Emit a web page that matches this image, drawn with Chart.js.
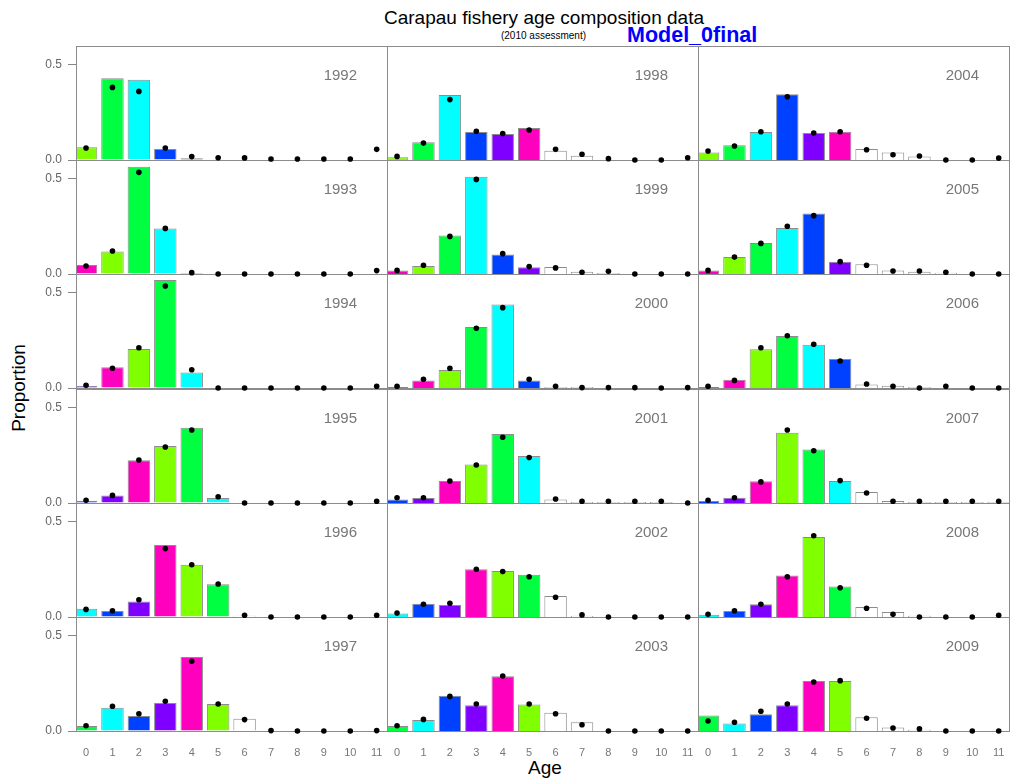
<!DOCTYPE html>
<html>
<head>
<meta charset="utf-8">
<script src="https://cdn.jsdelivr.net/npm/chart.js@4.4.1/dist/chart.umd.min.js"></script>
<style>
html,body{margin:0;padding:0;background:#fff;width:1011px;height:778px;overflow:hidden;font-family:"Liberation Sans",Arial,sans-serif;}
.abs{position:absolute;white-space:nowrap;line-height:1;}
canvas{position:absolute;}
</style>
</head>
<body>
<div class="abs" style="left:0;width:1088px;top:8px;text-align:center;font-size:19px;color:#000;">Carapau fishery age composition data</div>
<div class="abs" style="left:0;width:1087px;top:31px;text-align:center;font-size:10px;color:#000;">(2010 assessment)</div>
<div class="abs" style="left:627px;top:25px;font-size:21.5px;font-weight:bold;color:#0000ff;">Model_0final</div>
<div class="abs" style="left:18px;top:388px;font-size:19px;color:#000;transform:translate(-50%,-50%) rotate(-90deg);">Proportion</div>
<div class="abs" style="left:545px;top:767px;font-size:19px;color:#000;transform:translate(-50%,-50%);">Age</div>
<div id="panels"></div>
<script>
// ---------------- data ----------------
const years = [1992,1993,1994,1995,1996,1997,1998,1999,2000,2001,2002,2003,2004,2005,2006,2007,2008,2009];
const ages = [0,1,2,3,4,5,6,7,8,9,10,11];
const yTickValues = [0, 0.5];

// observed proportions (bars)
const obs1992 = [0.067,0.430,0.423,0.058,0.009,0.003,0,0,0,0,0,0];
const obs1993 = [0.047,0.119,0.565,0.239,0.005,0,0,0,0,0,0,0];
const obs1994 = [0.011,0.109,0.205,0.568,0.082,0,0,0,0,0,0,0];
const obs1995 = [0.012,0.039,0.225,0.300,0.396,0.026,0,0,0,0,0,0];
const obs1996 = [0.044,0.032,0.082,0.379,0.275,0.172,0.007,0,0,0,0,0];
const obs1997 = [0.026,0.123,0.079,0.147,0.389,0.142,0.065,0,0,0,0,0];
const obs1998 = [0.014,0.093,0.342,0.147,0.137,0.168,0.049,0.023,0,0,0,0];
const obs1999 = [0.018,0.042,0.202,0.512,0.102,0.035,0.037,0.012,0.005,0,0,0];
const obs2000 = [0.005,0.039,0.095,0.321,0.439,0.039,0.005,0.005,0,0,0,0];
const obs2001 = [0.019,0.026,0.116,0.202,0.363,0.247,0.018,0.005,0.005,0.005,0.005,0];
const obs2002 = [0.019,0.070,0.063,0.251,0.242,0.223,0.111,0.007,0,0,0,0];
const obs2003 = [0.026,0.058,0.186,0.135,0.288,0.140,0.096,0.046,0,0,0,0];
const obs2004 = [0.039,0.077,0.147,0.346,0.142,0.149,0.058,0.039,0.019,0,0,0];
const obs2005 = [0.019,0.089,0.163,0.242,0.318,0.065,0.051,0.019,0.012,0.007,0,0];
const obs2006 = [0.005,0.044,0.204,0.274,0.228,0.153,0.018,0.012,0.005,0,0,0];
const obs2007 = [0.011,0.028,0.114,0.370,0.281,0.116,0.058,0.011,0.005,0.005,0.005,0.005];
const obs2008 = [0.012,0.032,0.067,0.218,0.421,0.161,0.053,0.026,0.007,0,0,0];
const obs2009 = [0.082,0.040,0.088,0.135,0.263,0.263,0.072,0.019,0.007,0,0,0];

// model-predicted proportions (dots)
const exp1992 = [0.063,0.382,0.361,0.063,0.018,0.012,0.011,0.005,0.005,0.005,0.005,0.056];
const exp1993 = [0.042,0.121,0.535,0.240,0.007,0,0,0,0,0,0,0.018];
const exp1994 = [0.014,0.104,0.212,0.537,0.096,0,0,0,0,0,0,0.009];
const exp1995 = [0.014,0.040,0.226,0.295,0.384,0.033,0,0,0,0,0,0.009];
const exp1996 = [0.040,0.033,0.091,0.360,0.275,0.174,0.009,0,0,0,0,0.009];
const exp1997 = [0.028,0.130,0.091,0.156,0.367,0.142,0.060,0.002,0,0,0,0.002];
const exp1998 = [0.019,0.089,0.318,0.151,0.139,0.158,0.056,0.030,0.007,0,0,0.012];
const exp1999 = [0.019,0.046,0.198,0.498,0.107,0.039,0.032,0.009,0.014,0,0,0];
const exp2000 = [0.009,0.046,0.104,0.314,0.423,0.046,0.009,0.002,0.002,0.002,0,0.002];
const exp2001 = [0.028,0.028,0.116,0.200,0.346,0.239,0.021,0.009,0.009,0.009,0.009,0];
const exp2002 = [0.021,0.067,0.072,0.251,0.239,0.212,0.104,0.011,0,0,0,0];
const exp2003 = [0.028,0.061,0.182,0.142,0.289,0.142,0.091,0.033,0,0,0,0];
const exp2004 = [0.047,0.074,0.149,0.333,0.142,0.149,0.054,0.028,0.021,0,0,0.010];
const exp2005 = [0.019,0.089,0.161,0.251,0.307,0.065,0.046,0.016,0.016,0.009,0,0];
const exp2006 = [0.009,0.040,0.212,0.275,0.230,0.142,0.021,0.009,0,0.009,0,0];
const exp2007 = [0.014,0.028,0.111,0.384,0.275,0.118,0.053,0.009,0.009,0.009,0.009,0.009];
const exp2008 = [0.014,0.033,0.067,0.212,0.428,0.154,0.046,0.014,0,0,0,0.009];
const exp2009 = [0.053,0.046,0.104,0.142,0.258,0.265,0.067,0.016,0.011,0,0,0];

const observed = [obs1992,obs1993,obs1994,obs1995,obs1996,obs1997,obs1998,obs1999,obs2000,
                  obs2001,obs2002,obs2003,obs2004,obs2005,obs2006,obs2007,obs2008,obs2009];
const expected = [exp1992,exp1993,exp1994,exp1995,exp1996,exp1997,exp1998,exp1999,exp2000,
                  exp2001,exp2002,exp2003,exp2004,exp2005,exp2006,exp2007,exp2008,exp2009];

// ---------------- styles ----------------
const cohortColors = ['#80ff00','#00ff40','#00ffff','#0040ff','#8000ff','#ff00bf'];
const plusGroupColor = '#ffffff';
const firstPlusAge = 6;
function barColor(year, age){
  if (age >= firstPlusAge) return plusGroupColor;
  const cohort = year - age;
  return cohortColors[(((1992 - cohort) % 6) + 6) % 6];
}

Chart.defaults.font.family = '"Liberation Sans", Arial, sans-serif';

const colLefts = [76, 387, 698];
const colW = 311;
const rowTops = [46, 160, 274, 389, 503, 617];
const rowH = 114;
const P = 5, Y_AXIS_W = 60, X_AXIS_H = 40;

const framePlugin = {
  id: 'frame',
  afterDatasetDraw(chart, args){
    if (args.meta.type !== 'bar') return;
    const a = chart.chartArea, ctx = chart.ctx;
    ctx.save();
    ctx.strokeStyle = '#8c8c8c';
    ctx.lineWidth = 1;
    ctx.strokeRect(a.left + 0.5, a.top + 0.5, a.right - a.left, a.bottom - a.top);
    ctx.restore();
  }
};

const holder = document.getElementById('panels');
years.forEach((year, i) => {
  const col = Math.floor(i / 6), row = i % 6;
  const isLeft = col === 0, isBottom = row === 5;
  const cv = document.createElement('canvas');
  const w = colW + P + (isLeft ? Y_AXIS_W : P);
  const h = rowH + P + (isBottom ? X_AXIS_H : P);
  cv.width = w; cv.height = h;
  cv.style.width = w + 'px'; cv.style.height = h + 'px';
  cv.style.left = (colLefts[col] - (isLeft ? Y_AXIS_W : P)) + 'px';
  cv.style.top = (rowTops[row] - P) + 'px';
  cv.style.zIndex = String(10 - row);
  holder.appendChild(cv);

  const lab = document.createElement('div');
  lab.className = 'abs';
  lab.textContent = String(year);
  lab.style.cssText += `left:${colLefts[col]}px;width:${colW-30}px;top:${rowTops[row]+21}px;text-align:right;font-size:15px;color:#777;z-index:20;`;
  document.body.appendChild(lab);

  const obs = observed[i], ex = expected[i];
  new Chart(cv, {
    type: 'bar',
    data: {
      datasets: [
        {
          type: 'scatter',
          data: ages.map((a, k) => ({x: a, y: ex[k]})),
          pointRadius: 2.8,
          pointBackgroundColor: '#000',
          pointBorderWidth: 0,
          order: 0,
          clip: false
        },
        {
          type: 'bar',
          data: ages.map((a, k) => ({x: a, y: obs[k]})),
          backgroundColor: ages.map(a => barColor(year, a)),
          borderColor: '#8c8c8c',
          borderWidth: 1,
          barPercentage: 0.85,
          categoryPercentage: 1,
          order: 1
        }
      ]
    },
    options: {
      responsive: false,
      animation: false,
      events: [],
      layout: {padding: {top: P, right: P, bottom: isBottom ? 0 : P, left: isLeft ? 0 : P}},
      plugins: {legend: {display: false}, tooltip: {enabled: false}, title: {display: false}},
      scales: {
        x: {
          type: 'linear', min: -0.38, max: 11.39, offset: false,
          display: isBottom,
          grid: {display: false, drawTicks: false},
          border: {display: false},
          afterBuildTicks: s => { s.ticks = ages.map(v => ({value: v})); },
          ticks: {font: {size: 11}, color: '#777', padding: 15, autoSkip: false, maxRotation: 0,
                  callback: v => String(v)},
          afterFit: s => {
            if (isBottom) { s.height = X_AXIS_H; s.paddingLeft = 0; s.paddingRight = 0; }
            else { s.height = 0; }
          }
        },
        y: {
          type: 'linear', min: 0, max: 0.6,
          display: isLeft,
          grid: {display: true, drawOnChartArea: false, drawTicks: true, tickLength: 8, color: '#888'},
          border: {display: false},
          afterBuildTicks: s => { s.ticks = yTickValues.map(v => ({value: v})); },
          ticks: {font: {size: 12}, color: '#666', padding: 6, callback: v => v.toFixed(1)},
          afterFit: s => {
            if (isLeft) { s.width = Y_AXIS_W; s.paddingTop = 0; s.paddingBottom = 0; }
            else { s.width = 0; }
          }
        }
      }
    },
    plugins: [framePlugin]
  });
});
</script>
</body>
</html>
